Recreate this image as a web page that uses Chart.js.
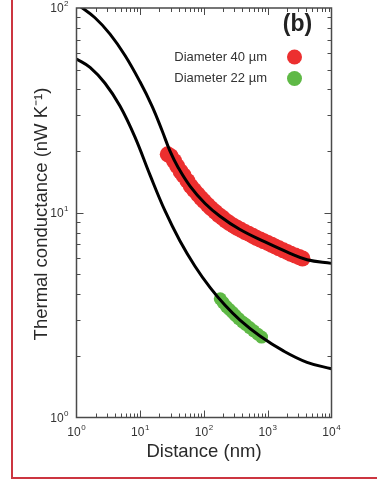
<!DOCTYPE html>
<html>
<head>
<meta charset="utf-8">
<script src="https://cdn.jsdelivr.net/npm/chart.js@4/dist/chart.umd.min.js"></script>
<style>
  html, body { margin: 0; padding: 0; background: #fff; }
  #wrap { position: relative; width: 377px; height: 481px; overflow: hidden; }
  #frame {
    position: absolute; left: 11px; top: -10px; width: 420px; height: 489px;
    box-sizing: border-box; border: 2px solid #cc3540; pointer-events: none;
  }
</style>
</head>
<body>
<div id="wrap">
  <canvas id="chart" width="377" height="481"></canvas>
  <div id="frame"></div>
</div>
<script>
// model curves
const upperCurveX = [1, 1.95, 3.36, 5.77, 9.91, 15.3, 21.9, 29.3, 39.1, 60.3, 104, 178, 367, 906, 2234, 4130, 10000];
const upperCurveY = [105, 89.6, 74.5, 58.6, 43.6, 33.2, 25.3, 20.0, 16.7, 13.5, 11.1, 9.62, 8.28, 7.2, 6.34, 5.9, 5.66];
const lowerCurveX = [1, 1.63, 2.8, 4.81, 8.27, 14.2, 24.5, 42, 72.2, 124, 214, 367, 755, 1735, 4130, 10000];
const lowerCurveY = [56.4, 51.3, 42.9, 33.2, 23.4, 15.3, 10.2, 7.28, 5.48, 4.32, 3.53, 2.99, 2.50, 2.12, 1.86, 1.73];

// measured points
const redX = [27, 30, 34, 38, 43, 48, 55, 62, 70, 80, 90, 100, 115, 130, 150, 170, 195, 220, 250, 290,
  330, 380, 440, 500, 580, 660, 760, 870, 1000, 1150, 1300, 1500, 1750, 2000, 2300, 2700, 3100, 3500];
const redY = [19.3, 18.9, 17.9, 16.9, 15.9, 15.2, 14.3, 13.5, 12.9, 12.3, 11.8, 11.4, 10.9, 10.5, 10.1, 9.75, 9.45, 9.15, 8.9, 8.65,
  8.45, 8.25, 8.05, 7.9, 7.72, 7.55, 7.4, 7.26, 7.12, 6.98, 6.85, 6.7, 6.55, 6.44, 6.3, 6.18, 6.08, 5.98];
const greenX = [180, 200, 225, 250, 280, 310, 350, 400, 450, 520, 600, 700, 800];
const greenY = [3.8, 3.64, 3.48, 3.37, 3.26, 3.15, 3.04, 2.93, 2.85, 2.75, 2.65, 2.55, 2.47];

const seriesLabels = ['Diameter 40 \u00b5m', 'Diameter 22 \u00b5m'];
const seriesColors = ['#ec2f2f', '#5fb946'];
const xTickValues = [1, 10, 100, 1000, 10000];
const yTickValues = [1, 10, 100];

const toPoints = (xs, ys) => xs.map((x, i) => ({ x: x, y: ys[i] }));

function drawPower(ctx, exp, x, y, align) {
  ctx.font = '12px "Liberation Sans", Arial, sans-serif';
  const wBase = ctx.measureText('10').width;
  ctx.font = '8px "Liberation Sans", Arial, sans-serif';
  const wExp = ctx.measureText(exp).width;
  const total = wBase + wExp + 0.5;
  let left = x - total / 2;
  if (align === 'right') left = x - total;
  ctx.textBaseline = 'middle';
  ctx.textAlign = 'left';
  ctx.font = '12px "Liberation Sans", Arial, sans-serif';
  ctx.fillText('10', left, y);
  ctx.font = '8px "Liberation Sans", Arial, sans-serif';
  ctx.fillText(exp, left + wBase + 0.5, y - 5);
}

const framePlugin = {
  id: 'frameTicks',
  afterDatasetsDraw(chart) {
    const ctx = chart.ctx;
    const area = chart.chartArea;
    const xs = chart.scales.x;
    const ys = chart.scales.y;
    ctx.save();
    ctx.strokeStyle = '#4a4a4a';
    ctx.lineWidth = 1.5;
    ctx.strokeRect(area.left, area.top, area.right - area.left, area.bottom - area.top);

    ctx.lineWidth = 1;
    ctx.beginPath();
    for (let d = 1; d < 10000; d *= 10) {
      for (let m = 1; m < 10; m++) {
        const v = d * m;
        const len = m === 1 ? 7 : 4;
        const px = Math.round(xs.getPixelForValue(v)) + 0.5;
        if (m === 1 && d === 1) continue;
        ctx.moveTo(px, area.bottom); ctx.lineTo(px, area.bottom - len);
        ctx.moveTo(px, area.top); ctx.lineTo(px, area.top + len);
      }
    }
    for (let d = 1; d < 100; d *= 10) {
      for (let m = 1; m < 10; m++) {
        const v = d * m;
        const len = m === 1 ? 7 : 4;
        const py = Math.round(ys.getPixelForValue(v)) + 0.5;
        if (m === 1 && d === 1) continue;
        ctx.moveTo(area.left, py); ctx.lineTo(area.left + len, py);
        ctx.moveTo(area.right, py); ctx.lineTo(area.right - len, py);
      }
    }
    ctx.stroke();

    // tick labels
    ctx.fillStyle = '#333';
    xTickValues.forEach((v) => {
      drawPower(ctx, String(Math.round(Math.log10(v))), xs.getPixelForValue(v), area.bottom + 15, 'center');
    });
    yTickValues.forEach((v) => {
      drawPower(ctx, String(Math.round(Math.log10(v))), area.left - 8, ys.getPixelForValue(v) + 1, 'right');
    });

    // axis titles
    ctx.fillStyle = '#2a2a2a';
    ctx.font = '18.5px "Liberation Sans", Arial, sans-serif';
    ctx.textAlign = 'center';
    ctx.textBaseline = 'middle';
    ctx.fillText('Distance (nm)', (area.left + area.right) / 2, 452);
    ctx.save();
    ctx.translate(42, 214);
    ctx.rotate(-Math.PI / 2);
    ctx.fillText('Thermal conductance (nW K\u207b\u00b9)', 0, 0);
    ctx.restore();

    // panel label and legend
    ctx.fillStyle = '#222';
    ctx.font = 'bold 23px "Liberation Sans", Arial, sans-serif';
    ctx.fillText('(b)', 297.5, 25);
    ctx.font = '13px "Liberation Sans", Arial, sans-serif';
    ctx.textAlign = 'right';
    ctx.fillStyle = '#333';
    seriesLabels.forEach((label, i) => {
      const y = 57 + i * 21.5;
      ctx.fillText(label, 267, y);
      ctx.fillStyle = seriesColors[i];
      ctx.beginPath();
      ctx.arc(294.5, y, 7.5, 0, Math.PI * 2);
      ctx.fill();
      ctx.fillStyle = '#333';
    });
    ctx.restore();
  }
};

const ctx = document.getElementById('chart').getContext('2d');
const chart = new Chart(ctx, {
  type: 'scatter',
  data: {
    datasets: [
      {
        data: toPoints(upperCurveX, upperCurveY), showLine: true, borderColor: '#000', borderWidth: 3,
        pointRadius: 0, tension: 0.4, fill: false
      },
      {
        data: toPoints(lowerCurveX, lowerCurveY), showLine: true, borderColor: '#000', borderWidth: 3,
        pointRadius: 0, tension: 0.4, fill: false
      },
      {
        label: seriesLabels[0], data: toPoints(redX, redY), pointRadius: 8, borderWidth: 0,
        backgroundColor: seriesColors[0], pointBorderWidth: 0
      },
      {
        label: seriesLabels[1], data: toPoints(greenX, greenY), pointRadius: 6.5, borderWidth: 0,
        backgroundColor: seriesColors[1], pointBorderWidth: 0
      }
    ]
  },
  options: {
    responsive: false,
    animation: false,
    layout: { padding: { left: 76.5, right: 45.5, top: 3.5, bottom: 63.5 } },
    scales: {
      x: { type: 'logarithmic', min: 1, max: 10000, display: false },
      y: { type: 'logarithmic', min: 1, max: 100, display: false }
    },
    plugins: { legend: { display: false }, tooltip: { enabled: false } }
  },
  plugins: [framePlugin]
});
</script>
</body>
</html>
